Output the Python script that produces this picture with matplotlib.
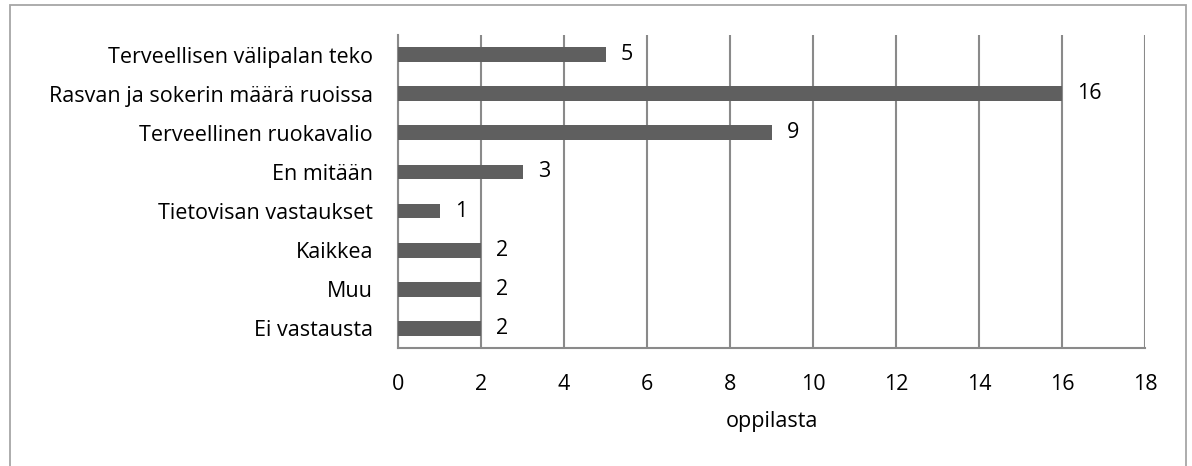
import matplotlib
matplotlib.use("Agg")
import matplotlib.pyplot as plt
from matplotlib.patches import Rectangle

plt.rcParams['font.family'] = ['Open Sans', 'DejaVu Sans']

categories = [
    "Terveellisen välipalan teko",
    "Rasvan ja sokerin määrä ruoissa",
    "Terveellinen ruokavalio",
    "En mitään",
    "Tietovisan vastaukset",
    "Kaikkea",
    "Muu",
    "Ei vastausta",
]
values = [5, 16, 9, 3, 1, 2, 2, 2]
x_ticks = [0, 2, 4, 6, 8, 10, 12, 14, 16, 18]
x_label = "oppilasta"

W, H, DPI = 1192, 466, 100
fig = plt.figure(figsize=(W / DPI, H / DPI), dpi=DPI)
ax = fig.add_axes([398 / W, 1 - 348 / H, (1145 - 398) / W, (348 - 35) / H])

bar_color = "#5f5f5f"
grid_color = "#8a8a8a"
text_color = "#000000"
fs = 15.5

pos = list(range(len(categories)))[::-1]
ax.barh(pos, values, height=0.38, color=bar_color, zorder=3)

ax.set_xlim(0, 18)
ax.set_ylim(-0.5, len(categories) - 0.5)
ax.set_xticks(x_ticks)
ax.set_xticklabels([str(t) for t in x_ticks], fontsize=fs, color=text_color)
ax.set_yticks(pos)
ax.set_yticklabels(categories, fontsize=fs, color=text_color)
ax.tick_params(axis='both', length=0)
ax.tick_params(axis='x', pad=18.5)
ax.tick_params(axis='y', pad=18)

ax.grid(axis='x', color=grid_color, linewidth=1.5, zorder=0)
for side in ['top', 'right']:
    ax.spines[side].set_visible(False)
ax.spines['left'].set_color(grid_color)
ax.spines['left'].set_linewidth(1.5)
ax.spines['bottom'].set_color(grid_color)
ax.spines['bottom'].set_linewidth(1.5)

for p, v in zip(pos, values):
    ax.annotate(str(v), (v, p), xytext=(11, 0), textcoords='offset points',
                ha='left', va='center', fontsize=fs, color=text_color)

ax.set_xlabel(x_label, fontsize=fs, color=text_color, labelpad=12)

# outer frame of the chart area (open at the bottom)
fig.patches.append(Rectangle((10 / W, -0.05), (1186 - 10) / W, 1.05 - 5 / H,
                             transform=fig.transFigure, fill=False,
                             edgecolor="#a6a6a6", linewidth=1.3))

fig.savefig("out.png", dpi=DPI)
